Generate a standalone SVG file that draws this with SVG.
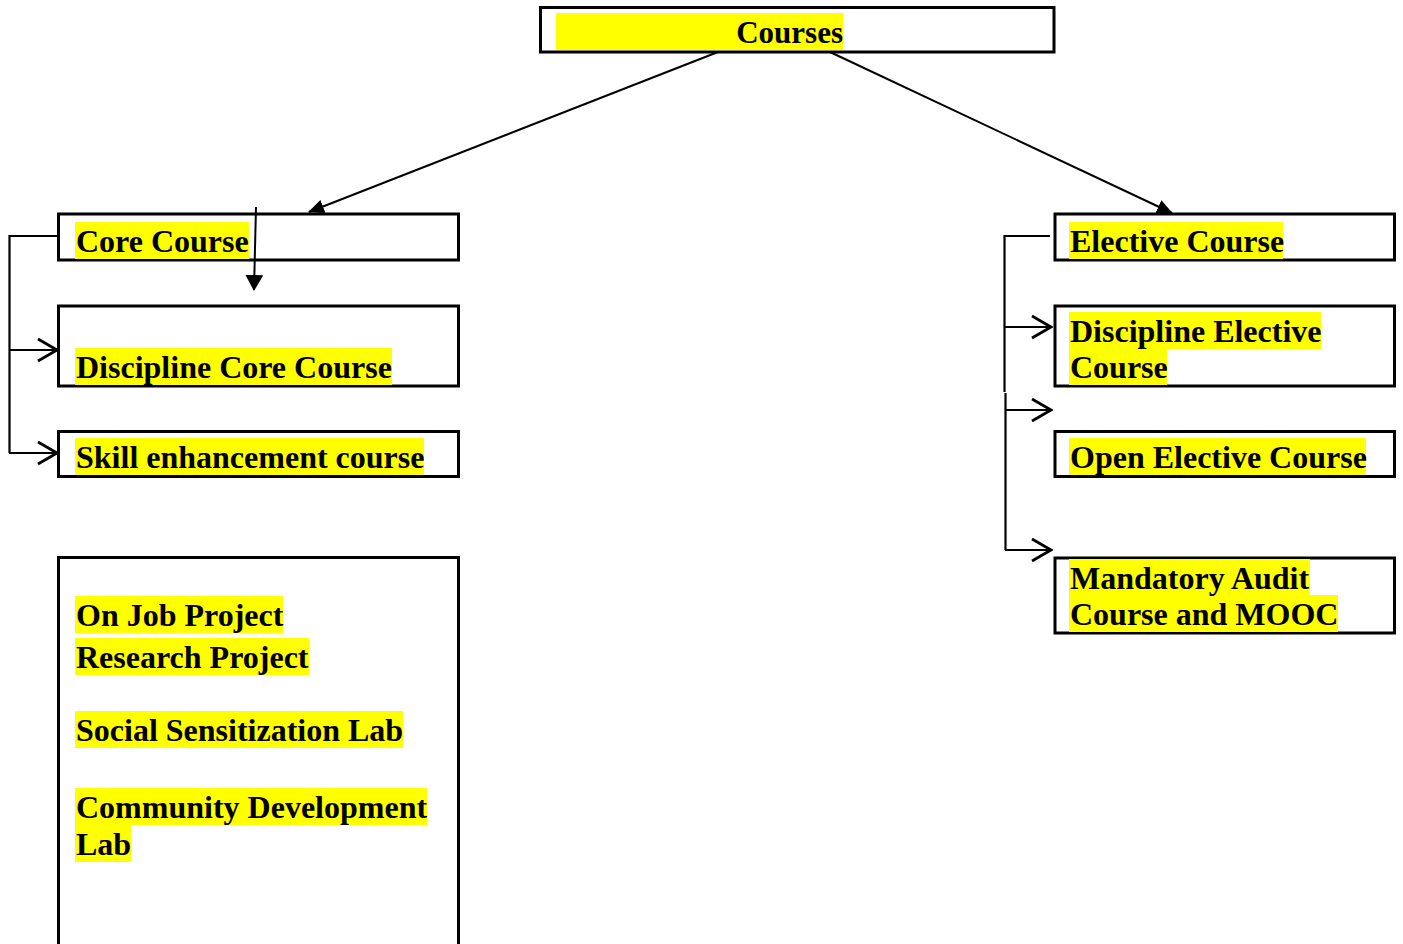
<svg xmlns="http://www.w3.org/2000/svg" width="1403" height="944" viewBox="0 0 1403 944">
<style>
.box{fill:none;stroke:#000;stroke-width:3}
.hl{fill:#ffff00}
.t{font-family:"Liberation Serif","Times New Roman",serif;font-weight:bold;font-size:32px;fill:#000}
.c{fill:none;stroke:#000;stroke-width:2}
.co{fill:none;stroke:#000;stroke-width:2.2}
</style>
<defs>
<marker id="fill" viewBox="0 0 16 14" refX="15" refY="7" markerWidth="16" markerHeight="14" markerUnits="userSpaceOnUse" orient="auto">
<path d="M0,0 L16,7 L0,14 Z" fill="#000"/>
</marker>
<marker id="fillv" viewBox="0 0 16 18" refX="15" refY="9" markerWidth="16" markerHeight="18" markerUnits="userSpaceOnUse" orient="auto">
<path d="M0,0 L16,9 L0,18 Z" fill="#000"/>
</marker>
<marker id="open" viewBox="0 0 22 26" refX="20" refY="13" markerWidth="22" markerHeight="26" markerUnits="userSpaceOnUse" orient="auto">
<path d="M1,2 L20,13 L1,24" fill="none" stroke="#000" stroke-width="2.8"/>
</marker>
</defs>

<g id="courses">
<rect class="box" x="540.5" y="7.5" width="513.5" height="44.5"/>
<rect class="hl" x="556" y="13" width="287" height="37"/>
<text class="t" x="843" y="43" text-anchor="end" style="font-size:31px">Courses</text>
</g>

<g id="core-course">
<rect class="box" x="58.5" y="214" width="400" height="46"/>
<rect class="hl" x="75" y="222" width="174" height="37"/>
<text class="t" x="76" y="251.5">Core Course</text>
</g>

<g id="discipline-core">
<rect class="box" x="58.5" y="306" width="400" height="80"/>
<rect class="hl" x="75" y="348" width="317" height="37"/>
<text class="t" x="76" y="377.5">Discipline Core Course</text>
</g>

<g id="skill">
<rect class="box" x="58.5" y="431.5" width="400" height="45"/>
<rect class="hl" x="75" y="438" width="349" height="37"/>
<text class="t" x="76" y="467.5">Skill enhancement course</text>
</g>

<g id="projects">
<path class="box" d="M58.5,946 V557.5 H458.5 V946"/>
<rect class="hl" x="75" y="596" width="208" height="37"/>
<text class="t" x="76" y="625.5">On Job Project</text>
<rect class="hl" x="75" y="638" width="234" height="37"/>
<text class="t" x="76" y="667.5">Research Project</text>
<rect class="hl" x="75" y="711" width="328" height="37"/>
<text class="t" x="76" y="740.5">Social Sensitization Lab</text>
<rect class="hl" x="75" y="788" width="352" height="37"/>
<text class="t" x="76" y="817.5">Community Development</text>
<rect class="hl" x="75" y="825" width="56" height="37"/>
<text class="t" x="76" y="854.5">Lab</text>
</g>

<g id="elective-course">
<rect class="box" x="1055" y="214" width="339.5" height="46"/>
<rect class="hl" x="1069" y="222" width="214" height="37"/>
<text class="t" x="1070" y="251.5">Elective Course</text>
</g>

<g id="discipline-elective">
<rect class="box" x="1055" y="306" width="339.5" height="80"/>
<rect class="hl" x="1069" y="312" width="252" height="37"/>
<rect class="hl" x="1069" y="349" width="98" height="36"/>
<text class="t" x="1070" y="341.5">Discipline Elective</text>
<text class="t" x="1070" y="378">Course</text>
</g>

<g id="open-elective">
<rect class="box" x="1055" y="431.5" width="339.5" height="45"/>
<rect class="hl" x="1069" y="438" width="297" height="37"/>
<text class="t" x="1070" y="467.5">Open Elective Course</text>
</g>

<g id="mandatory">
<rect class="box" x="1055" y="558" width="339.5" height="75"/>
<rect class="hl" x="1069" y="559" width="241" height="36"/>
<rect class="hl" x="1069" y="595" width="269" height="37"/>
<text class="t" x="1070" y="588.5">Mandatory Audit</text>
<text class="t" x="1070" y="625">Course and MOOC</text>
</g>

<g id="connectors">
<line class="c" x1="718" y1="52" x2="309" y2="212" marker-end="url(#fill)"/>
<line class="c" x1="830" y1="52" x2="1172" y2="213" marker-end="url(#fill)"/>
<line class="c" x1="256" y1="207" x2="254" y2="290" stroke-width="2.4" marker-end="url(#fillv)"/>
<path class="co" d="M57,236 H9.5 V453"/>
<line class="co" x1="10" y1="350" x2="57" y2="350" marker-end="url(#open)"/>
<line class="co" x1="9" y1="453" x2="57" y2="453" marker-end="url(#open)"/>
<path class="co" d="M1050,236 H1004.5 V392"/>
<path class="co" d="M1005.5,393 V550"/>
<line class="co" x1="1005" y1="327" x2="1051" y2="327" marker-end="url(#open)"/>
<line class="co" x1="1005" y1="410" x2="1051" y2="410" marker-end="url(#open)"/>
<line class="co" x1="1005" y1="550" x2="1051" y2="550" marker-end="url(#open)"/>
</g>
</svg>
